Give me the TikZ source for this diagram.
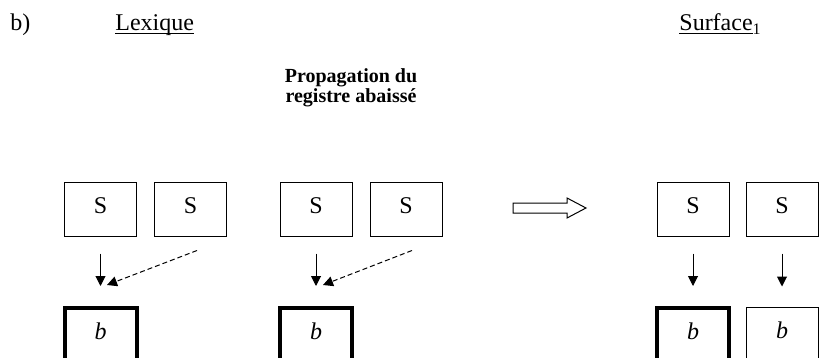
\documentclass[tikz,border=0pt,12pt]{standalone}
\usepackage{fontspec}
\setmainfont{Liberation Serif}
\usetikzlibrary{arrows.meta,calc}
\newlength\ulwd
\newcommand\ulword[1]{\settowidth\ulwd{#1}\rlap{\rule[-1.6pt]{\ulwd}{0.5pt}}#1}

\begin{document}
\begin{tikzpicture}[x=.5pt,y=-.5pt,
  head/.style={anchor=base west,inner sep=0pt},
  note/.style={anchor=base,inner sep=0pt,font=\bfseries\fontsize{10}{10}\selectfont},
  seg/.style={draw,line width=.5pt,minimum width=36pt,minimum height=27pt,inner sep=0pt,text depth=3.5pt},
  heavy/.style={seg,line width=2pt},
  link/.style={line width=.5pt,-{Triangle[length=5pt,width=5pt]},shorten <=8.5pt,shorten >=10pt},
  spread/.style={line width=.5pt,dash pattern=on 2.5pt off 1.5pt,-{Triangle[length=5pt,width=5pt]}}]
  \useasboundingbox (0,0) rectangle (819,358);
  \clip (0,0) rectangle (819,358);
  \node[head] (tag) at (10,31){b)};
  \node[head] (lex) at (115,31){\ulword{Lexique}};
  \node[head] (surf) at (679,31){\ulword{Surface}\textsubscript{1}};
  \node[note] (prop) at (351,83){Propagation du};
  \node[note] (reg) at (351,103){registre abaiss\'e};
  \node[seg] (s1) at (100.5,209){S};
  \node[seg] (s2) at (190.5,209){S};
  \node[seg] (s3) at (316,209){S};
  \node[seg] (s4) at (406,209){S};
  \node[seg] (s5) at (693,209){S};
  \node[seg] (s6) at (782,209){S};
  \node[heavy,font=\itshape] (b1) at (100.5,335){b};
  \node[heavy,font=\itshape] (b2) at (316,335){b};
  \node[heavy,font=\itshape] (b3) at (693,335){b};
  \node[seg,font=\itshape] (b4) at (782,334){b};
  \draw[link] (s1) -- (b1);
  \draw[link] (s3) -- (b2);
  \draw[link] (s5) -- (b3);
  \draw[link] (s6) -- (b4);
  \draw[spread] ($(s2.south)+(6.5,14)$) -- ($(b1.north)+(6.5,-21)$);
  \draw[spread] ($(s4.south)+(6,14)$) -- ($(b2.north)+(7,-21)$);
  \draw[line width=.5pt] (513,203) -- (567,203) -- (567,198) -- (586,208)
    -- (567,218) -- (567,213) -- (513,213) -- cycle;
\end{tikzpicture}
\end{document}
